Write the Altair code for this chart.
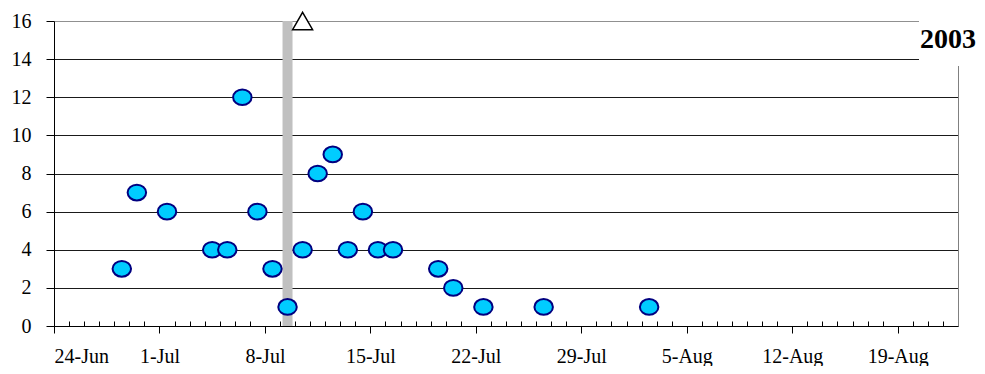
import altair as alt
import pandas as pd

# ---- data ----
dates = ["2003-06-28", "2003-06-29", "2003-07-01", "2003-07-04", "2003-07-05",
         "2003-07-06", "2003-07-07", "2003-07-08", "2003-07-09", "2003-07-10",
         "2003-07-11", "2003-07-12", "2003-07-13", "2003-07-14", "2003-07-15",
         "2003-07-16", "2003-07-19", "2003-07-20", "2003-07-22", "2003-07-26",
         "2003-08-02"]
counts = [3, 7, 6, 4, 4, 12, 6, 3, 1, 4, 8, 9, 4, 6, 4, 4, 3, 2, 1, 1, 1]

event_date = "2003-07-09"      # grey vertical band
arrival_date = "2003-07-10"    # open triangle marker
arrival_level = 16
year_label = "2003"

major_ticks = ["2003-06-24", "2003-07-01", "2003-07-08", "2003-07-15", "2003-07-22",
               "2003-07-29", "2003-08-05", "2003-08-12", "2003-08-19"]
x_start, x_end = "2003-06-24", "2003-08-23"
y_ticks = [0, 2, 4, 6, 8, 10, 12, 14, 16]
y_max = 16


def dt(s):
    y, m, d = (int(v) for v in s.split("-"))
    return alt.DateTime(year=y, month=m, date=d)


major_vals = [dt(s) for s in major_ticks]
minor_vals = [dt(d.strftime("%Y-%m-%d"))
              for d in pd.date_range(x_start, x_end, freq="D")
              if d.strftime("%Y-%m-%d") not in major_ticks]

points_df = pd.DataFrame({"date": [d + "T12:00:00" for d in dates], "count": counts})
bar_df = pd.DataFrame({"date": [event_date + "T12:00:00"], "y0": [0], "y1": [y_max]})
tri_df = pd.DataFrame({"date": [arrival_date + "T12:00:00"], "level": [arrival_level]})
label_df = pd.DataFrame({"label": [year_label]})

W, H = 904, 305
x_scale = alt.Scale(domain=[dt(x_start), dt(x_end)])
y_scale = alt.Scale(domain=[0, y_max], nice=False)

ELLIPSE = "M-1,0A1,0.85,0,1,1,1,0A1,0.85,0,1,1,-1,0Z"
TRIANGLE = "M0,-0.866L1,0.866L-1,0.866Z"
SERIF = "Liberation Serif"

bar = alt.Chart(bar_df).mark_rule(color="#C0C0C0", strokeWidth=10).encode(
    x=alt.X("date:T", scale=x_scale,
            axis=alt.Axis(orient="top", offset=-H, values=minor_vals, labels=False,
                          domain=False, grid=False, tickSize=5, tickColor="black",
                          title=None)),
    y=alt.Y("y0:Q", scale=y_scale, axis=None),
    y2="y1:Q",
)

points = alt.Chart(points_df).mark_point(
    shape=ELLIPSE, filled=True, fill="#00CCFF", stroke="#000080",
    strokeWidth=2, size=342, opacity=1,
).encode(
    x=alt.X("date:T", scale=x_scale,
            axis=alt.Axis(orient="bottom", values=major_vals, format="%-d-%b",
                          tickSize=7, labelPadding=13, grid=False, title=None,
                          domainColor="black", tickColor="black",
                          labelFont=SERIF, labelFontSize=20, labelColor="black")),
    y=alt.Y("count:Q", scale=y_scale,
            axis=alt.Axis(orient="left", values=y_ticks, grid=True,
                          gridColor={"condition": {"test": "datum.value == 16", "value": "#909090"},
                                     "value": "#1a1a1a"},
                          tickSize=8, labelPadding=15, title=None,
                          domainColor="black", tickColor="black",
                          labelFont=SERIF, labelFontSize=20, labelColor="black")),
)

tri = alt.Chart(tri_df).mark_point(
    shape=TRIANGLE, filled=True, fill="white", stroke="black",
    strokeWidth=1.5, size=400, opacity=1,
).encode(
    x=alt.X("date:T", scale=x_scale, axis=None),
    y=alt.Y("level:Q", scale=y_scale,
            axis=alt.Axis(orient="right", ticks=False, labels=False, grid=False,
                          domainColor="#808080", title=None)),
)

box = alt.Chart(label_df).mark_rect(color="white").encode(
    x=alt.value(865), x2=alt.value(918), y=alt.value(-5), y2=alt.value(45),
)

text = alt.Chart(label_df).mark_text(
    font=SERIF, fontSize=28, fontWeight="bold", color="black",
    align="center", baseline="alphabetic",
).encode(
    x=alt.value(894), y=alt.value(27), text="label:N",
)

chart = (
    alt.layer(bar, points, tri, box, text)
    .resolve_axis(x="independent", y="independent")
    .properties(width=W, height=H,
                background="white",
                autosize=alt.AutoSizeParams(type="none"),
                padding={"left": 46, "top": 13, "right": 19, "bottom": 40})
    .configure_view(stroke=None)
    .configure_axis(labelFont=SERIF, labelFontSize=20, labelColor="black",
                    domainWidth=1, tickWidth=1, gridWidth=1)
)

chart.save("out.html", embed_options={"renderer": "svg", "actions": False})
